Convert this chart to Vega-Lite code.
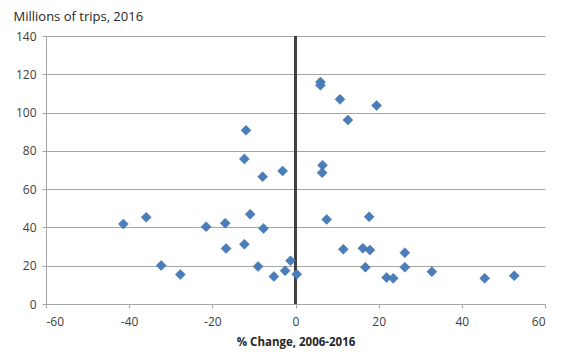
{
  "$schema": "https://vega.github.io/schema/vega-lite/v6.json",
  "width": 499,
  "height": 268,
  "autosize": "none",
  "padding": {"left": 46, "top": 36, "right": 22, "bottom": 57},
  "background": "white",
  "config": {
    "view": {"stroke": null},
    "font": "Open Sans",
    "axis": {
      "labelFont": "Open Sans",
      "labelFontSize": 12,
      "labelColor": "#404040",
      "titleFont": "Open Sans",
      "domainColor": "#a6a6a6",
      "tickColor": "#a6a6a6",
      "gridColor": "#a6a6a6",
      "tickSize": 4,
      "labelExpr": "datum.value + ''"
    }
  },
  "data": {
    "values": [
      {"change": -41.4, "trips": 41.8},
      {"change": -35.9, "trips": 45.3},
      {"change": -32.3, "trips": 20.1},
      {"change": -27.7, "trips": 15.4},
      {"change": -21.5, "trips": 40.4},
      {"change": -16.9, "trips": 42.2},
      {"change": -16.7, "trips": 29.0},
      {"change": -12.3, "trips": 31.2},
      {"change": -10.9, "trips": 46.9},
      {"change": -7.7, "trips": 39.5},
      {"change": -9.0, "trips": 19.6},
      {"change": -5.2, "trips": 14.4},
      {"change": -2.5, "trips": 17.4},
      {"change": -1.2, "trips": 22.6},
      {"change": 0.3, "trips": 15.5},
      {"change": -11.9, "trips": 90.7},
      {"change": -12.3, "trips": 75.8},
      {"change": -7.9, "trips": 66.5},
      {"change": -3.1, "trips": 69.5},
      {"change": 6.0, "trips": 116.0},
      {"change": 6.0, "trips": 114.3},
      {"change": 10.7, "trips": 106.9},
      {"change": 19.5, "trips": 103.7},
      {"change": 12.6, "trips": 96.1},
      {"change": 6.5, "trips": 72.5},
      {"change": 6.4, "trips": 68.6},
      {"change": 7.5, "trips": 44.2},
      {"change": 17.7, "trips": 45.6},
      {"change": 11.5, "trips": 28.6},
      {"change": 16.2, "trips": 29.1},
      {"change": 17.9, "trips": 28.2},
      {"change": 26.3, "trips": 26.8},
      {"change": 16.8, "trips": 19.2},
      {"change": 26.3, "trips": 19.2},
      {"change": 21.9, "trips": 13.8},
      {"change": 23.5, "trips": 13.4},
      {"change": 32.8, "trips": 16.9},
      {"change": 45.5, "trips": 13.4},
      {"change": 52.6, "trips": 14.8}
    ]
  },
  "layer": [
    {
      "mark": {"type": "rule", "color": "#404040", "strokeWidth": 1.75},
      "encoding": {"x": {"datum": 0, "type": "quantitative"}}
    },
    {
      "mark": {"type": "point", "shape": "diamond", "filled": true, "size": 100, "color": "#4a7ebb", "stroke": "#3c6aa3", "strokeWidth": 0.5, "opacity": 1},
      "encoding": {
        "x": {
          "field": "change",
          "type": "quantitative",
          "scale": {"domain": [-60, 60], "nice": false, "zero": false},
          "axis": {
            "values": [-60, -40, -20, 0, 20, 40, 60],
            "grid": false,
            "title": "% Change, 2006-2016",
            "titleFontWeight": "bold",
            "titleFontSize": 11.5,
            "titleColor": "#262626",
            "titlePadding": 9,
            "labelPadding": 8
          }
        },
        "y": {
          "field": "trips",
          "type": "quantitative",
          "scale": {"domain": [0, 140], "nice": false},
          "axis": {
            "values": [0, 20, 40, 60, 80, 100, 120, 140],
            "grid": true,
            "labelPadding": 6,
            "title": "Millions of trips, 2016",
            "titleAngle": 0,
            "titleX": -33,
            "titleY": -16,
            "titleAlign": "left",
            "titleBaseline": "alphabetic",
            "titleFontWeight": "normal",
            "titleFontSize": 13,
            "titleColor": "#262626"
          }
        }
      }
    }
  ]
}
